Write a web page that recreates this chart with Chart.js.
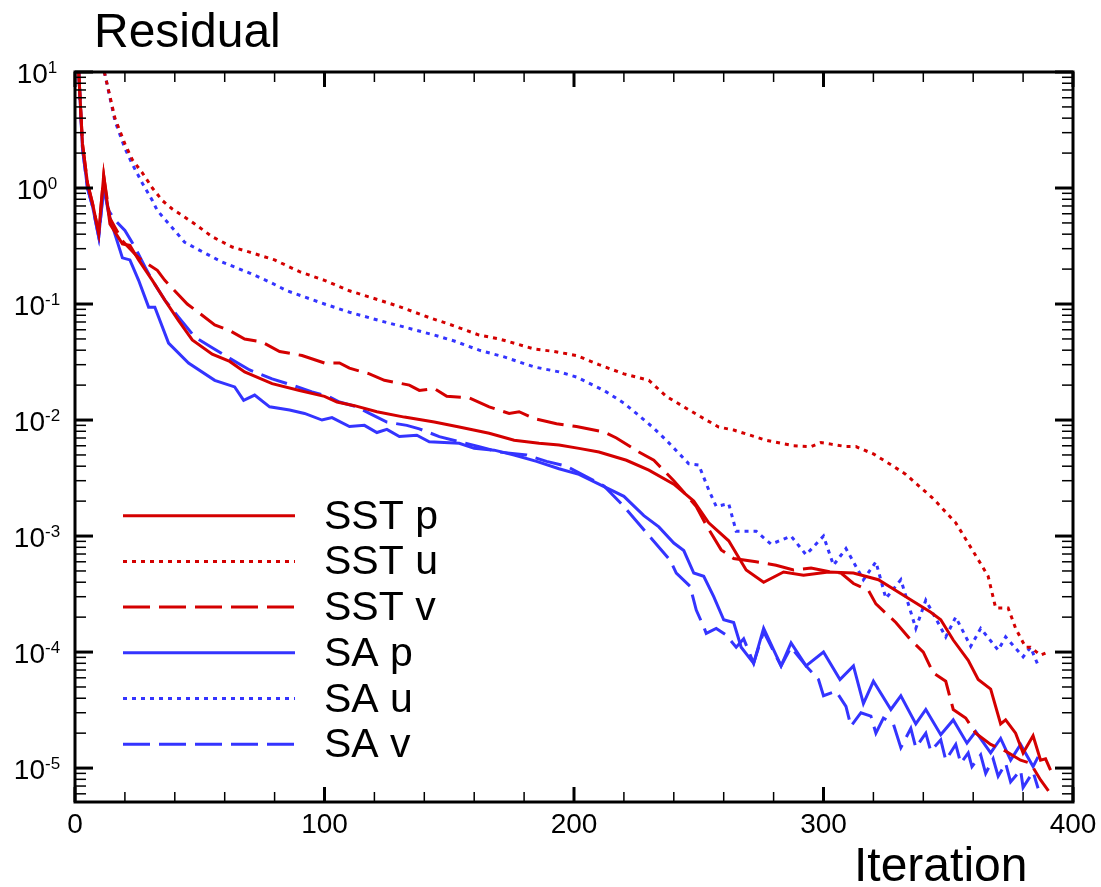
<!DOCTYPE html>
<html>
<head>
<meta charset="utf-8">
<title>Residual</title>
<script src="https://cdn.jsdelivr.net/npm/chart.js@4.4.1/dist/chart.umd.min.js"></script>
<style>
    html, body { margin: 0; padding: 0; background: #ffffff; }
    #wrap { width: 1101px; height: 887px; }
</style>
</head>
<body>
<div id="wrap"><canvas id="residual-chart" width="1101" height="887"></canvas></div>
<script>
/* ============================================================================
   RESIDUAL HISTORY - SST vs SA
   ============================================================================ */

// Series: [iteration, residual]
const sstP = [[0,20],[1.5,10],[3,2.4],[5,1.1],[7,0.74],[9.5,0.41],[11.5,1.28],[14,0.49],[19,0.33],[22,0.32],
    [25.5,0.24],[31,0.16],[36,0.108],[41.5,0.072],[47,0.049],[55,0.037],[62,0.032],[68,0.026],[79,0.0206],[90,0.018],
    [100,0.016],[105,0.0143],[112,0.0133],[121,0.0118],[132,0.0106],[144,0.0096],[154,0.0087],[166,0.0077],[176,0.0067],[186,0.0063],
    [194,0.0061],[202,0.0057],[210,0.0053],[221,0.0045],[230,0.0037],[240,0.0028],[248,0.002],[254,0.0013],[262,0.00091],[269,0.00051],
    [276,0.0004],[284,0.00049],[292,0.00046],[302,0.00049],[312,0.00048],[322,0.00042],[333,0.0003],[343,0.00022],[347,0.00019],[352,0.000127],
    [358,8.5e-5],[362,5.8e-5],[367,4.8e-5],[371,2.4e-5],[373,2.6e-5],[377,2e-5],[380,1.35e-5],[384,1.9e-5],[387,1.17e-5],[389,1.2e-5],[391,9.6e-6]];

const sstU = [[8,20],[12,9.5],[16,4.0],[20,2.4],[23,1.75],[27,1.35],[31,1.0],[35,0.78],[39,0.66],[48,0.49],
    [55,0.38],[63,0.31],[70,0.28],[80,0.24],[90,0.19],[100,0.16],[110,0.13],[122,0.108],[130,0.095],[143,0.075],
    [150,0.067],[162,0.054],[170,0.05],[184,0.041],[192,0.039],[201,0.036],[210,0.03],[220,0.025],[230,0.022],[237,0.016],
    [244,0.013],[252,0.0103],[258,0.0087],[264,0.0082],[277,0.0067],[288,0.006],[295,0.0059],[299,0.0064],[303,0.0062],[309,0.0059],
    [313,0.0059],[320,0.0051],[328,0.004],[333,0.0034],[344,0.0021],[353,0.0013],[361,0.00068],[366,0.00045],[369,0.00024],[374,0.00024],
    [377,0.00016],[381,0.00011],[383,0.00011],[387,0.000094],[390,0.0001]];

const sstV = [[0,20],[1.5,10],[3,2.4],[5,1.1],[7,0.74],[9.5,0.41],[11.5,1.28],[14,0.55],[19,0.35],[22,0.3],
    [25.5,0.25],[33,0.195],[36,0.16],[45,0.1],[50,0.083],[56,0.066],[62,0.059],[68,0.05],[75,0.047],[82,0.039],
    [91,0.036],[100,0.031],[106,0.031],[110,0.028],[118,0.025],[124,0.022],[134,0.02],[138,0.018],[144,0.0187],[149,0.016],
    [158,0.0155],[166,0.013],[174,0.0114],[178,0.0118],[184,0.0103],[193,0.0093],[201,0.0088],[212,0.0079],[217,0.007],[226,0.0053],
    [232,0.0045],[240,0.003],[249,0.0018],[253,0.00124],[259,0.00076],[264,0.00064],[273,0.0006],[281,0.00056],[288,0.00051],[295,0.00053],
    [303,0.00049],[307,0.00048],[312,0.00039],[318,0.00034],[321,0.00026],[329,0.00018],[335,0.000127],[340,0.0001],[344,6.6e-5],[349,5.6e-5],
    [352,3.2e-5],[357,2.7e-5],[361,2e-5],[367,1.6e-5],[373,1.4e-5],[379,1.17e-5],[383,1.1e-5],[387,7.9e-6],[391,6e-6]];

const saP = [[0,20],[1.5,10],[3,2.2],[5,1.0],[7,0.7],[9.5,0.38],[11.5,1.02],[13.5,0.6],[16,0.4],[19,0.25],
    [22,0.24],[25.5,0.16],[29.5,0.094],[32,0.094],[37.5,0.046],[45.5,0.031],[56,0.022],[64,0.0193],[67.6,0.0148],[72,0.0164],
    [78,0.013],[86,0.0122],[92,0.0114],[99,0.01],[103,0.0105],[110,0.0088],[116,0.009],[121,0.0078],[125,0.0083],[130,0.0072],
    [137,0.0074],[142,0.0065],[154,0.0063],[160,0.0057],[168,0.0055],[176,0.005],[185,0.0044],[194,0.0038],[202,0.0034],[210,0.0028],
    [220,0.0022],[228,0.0015],[234,0.0012],[240,0.00087],[244,0.00075],[248,0.00048],[252,0.00045],[256,0.0003],[260,0.00019],[264,0.00018],
    [267,0.00011],[272,8e-5],[276,0.00016],[283,7.6e-5],[287,0.00012],[293,7.6e-5],[300,0.0001],[306.6,5.8e-5],[312,7.6e-5],[316,3.6e-5],
    [320,5.6e-5],[327,3.2e-5],[331,4.2e-5],[337,2.4e-5],[341,3.2e-5],[347,1.94e-5],[352,2.6e-5],[357.5,1.64e-5],[361,2.06e-5],[367,1.35e-5],
    [371,1.8e-5],[375,1.17e-5],[379,1.6e-5],[384,1.03e-5],[386,1.25e-5]];

const saU = [[8,20],[12,9.5],[16,3.8],[20,2.2],[23,1.6],[27,1.1],[31,0.78],[33,0.64],[38,0.48],[44,0.34],
    [50,0.29],[59,0.23],[66,0.2],[70,0.185],[78,0.155],[85,0.13],[92,0.115],[100,0.1],[110,0.085],[122,0.072],
    [130,0.065],[144,0.054],[152,0.048],[162,0.04],[172,0.035],[184,0.0287],[194,0.026],[201,0.0235],[212,0.018],[220,0.014],
    [225,0.0114],[232,0.0085],[237,0.0067],[246,0.0042],[250,0.0041],[254,0.0025],[257,0.0018],[262,0.0019],[265,0.0011],[273,0.0011],
    [279,0.00085],[287,0.001],[293,0.00069],[300,0.001],[304,0.00056],[309,0.00078],[316,0.00042],[321,0.0006],[325,0.00029],[331,0.00042],
    [337,0.00016],[341,0.00028],[349,0.000135],[353,0.0002],[359,0.000112],[363,0.00016],[370,0.000104],[373,0.000135],[380,0.000091],[383,0.00011],
    [386,0.000077]];

const saV = [[0,20],[1.5,10],[3,2.2],[5,1.0],[7,0.7],[9.5,0.38],[11.5,1.0],[13.5,0.64],[16,0.53],[20,0.43],
    [24,0.31],[28,0.21],[31,0.16],[36,0.108],[41.5,0.077],[48,0.052],[55,0.042],[62,0.034],[70,0.027],[79,0.0226],
    [87,0.02],[95,0.0175],[102,0.0158],[106,0.0143],[113,0.013],[118,0.0114],[125,0.0096],[133,0.009],[138,0.0084],[146,0.0072],
    [154,0.0065],[162,0.0059],[170,0.0053],[181,0.005],[189,0.0044],[197,0.004],[202,0.0035],[212,0.0027],[220,0.0018],[230.5,0.00098],
    [238.5,0.00062],[241,0.00048],[246.5,0.00037],[249,0.00023],[252,0.000165],[253,0.000145],[257,0.00016],[261,0.00014],[265,0.00011],[268,0.00013],
    [272,8e-5],[276,0.00015],[283,7.6e-5],[287,0.00011],[293,7.6e-5],[298,5.8e-5],[300,4.2e-5],[305,4.6e-5],[309,3.4e-5],[311,2.3e-5],
    [315,3e-5],[319,2.8e-5],[321,2e-5],[324,2.7e-5],[328,2.4e-5],[331,1.5e-5],[335,2.2e-5],[337,1.5e-5],[341,2e-5],[343,1.4e-5],
    [347,1.75e-5],[349,1.17e-5],[353,1.6e-5],[355,1.1e-5],[358,1.35e-5],[359.5,1.03e-5],[363,1.3e-5],[365,9e-6],[368,1.2e-5],[370,8.5e-6],
    [373,1.1e-5],[375,7.6e-6],[379,9.6e-6],[380,6.8e-6],[384,9.3e-6],[386,6.7e-6]];

const seriesLabels = ['SST p', 'SST u', 'SST v', 'SA p', 'SA u', 'SA v'];

// Axes
const xMin = 0, xMax = 400;
const xMajorTicks = [0, 100, 200, 300, 400];
const xMinorStep = 20;
const yMin = 5.1e-6, yMax = 10;
const yDecades = [-5, -4, -3, -2, -1, 0, 1];

// Styles
const RED = '#d40000';
const BLUE = '#3434ff';
const SOLID = [];
const DOTTED = [4, 5];
const DASHED = [27, 9];
const FONT = '"Liberation Sans", Arial, Helvetica, sans-serif';

const seriesStyle = [
    { data: sstP, color: RED, dash: SOLID },
    { data: sstU, color: RED, dash: DOTTED },
    { data: sstV, color: RED, dash: DASHED },
    { data: saP, color: BLUE, dash: SOLID },
    { data: saU, color: BLUE, dash: DOTTED },
    { data: saV, color: BLUE, dash: DASHED }
];

function strokeLine(ctx, x1, y1, x2, y2) {
    ctx.beginPath();
    ctx.moveTo(x1, y1);
    ctx.lineTo(x2, y2);
    ctx.stroke();
}

// Frame, inward ticks and tick labels
const axisDecor = {
    id: 'axisDecor',
    afterDatasetsDraw(chart) {
        const { ctx, chartArea: a, scales: { x, y } } = chart;
        ctx.save();
        ctx.strokeStyle = '#000';
        ctx.fillStyle = '#000';
        ctx.setLineDash([]);

        // x ticks (bottom + top)
        for (let v = xMin; v <= xMax; v += xMinorStep) {
            const major = xMajorTicks.includes(v);
            const px = x.getPixelForValue(v);
            ctx.lineWidth = major ? 3 : 1.5;
            const len = major ? 15 : 10;
            strokeLine(ctx, px, a.bottom, px, a.bottom - len);
            strokeLine(ctx, px, a.top, px, a.top + len);
        }

        // y ticks (left + right), log minors
        for (let k = -6; k <= 1; k++) {
            for (let m = 1; m <= 9; m++) {
                const v = m * Math.pow(10, k);
                if (v < yMin || v > yMax * 1.0001) continue;
                const py = y.getPixelForValue(v);
                const major = m === 1;
                ctx.lineWidth = major ? 3 : 1.5;
                const len = major ? 18 : 11;
                strokeLine(ctx, a.left, py, a.left + len, py);
                strokeLine(ctx, a.right, py, a.right - len, py);
            }
        }

        // frame
        ctx.lineWidth = 3;
        ctx.strokeRect(a.left, a.top, a.right - a.left, a.bottom - a.top);

        // x labels
        ctx.font = '28px ' + FONT;
        ctx.textAlign = 'center';
        ctx.textBaseline = 'alphabetic';
        xMajorTicks.forEach(v => {
            ctx.fillText(String(v), x.getPixelForValue(v), a.bottom + 31);
        });

        // y labels: 10 with superscript exponent
        yDecades.forEach(k => {
            const py = y.getPixelForValue(Math.pow(10, k));
            const exp = String(k);
            ctx.font = '28px ' + FONT;
            const baseW = ctx.measureText('10').width;
            ctx.font = '17px ' + FONT;
            const expW = ctx.measureText(exp).width;
            const left = 37 - (baseW + expW) / 2;
            ctx.textAlign = 'left';
            ctx.font = '28px ' + FONT;
            ctx.fillText('10', left, py + 10.5);
            ctx.font = '17px ' + FONT;
            ctx.fillText(exp, left + baseW, py + 1);
        });

        // axis titles
        ctx.font = '48px ' + FONT;
        ctx.textAlign = 'left';
        ctx.fillText('Residual', 94, 47);
        ctx.fillText('Iteration', 854, 881);
        ctx.restore();
    }
};

// Legend drawn inside the plot
const insideLegend = {
    id: 'insideLegend',
    afterDraw(chart) {
        const { ctx } = chart;
        const lineX1 = 123, lineX2 = 295, textX = 324;
        const rowTop = 515.7, rowStep = 45.7;
        ctx.save();
        chart.data.datasets.forEach((ds, i) => {
            const ly = rowTop + i * rowStep;
            ctx.strokeStyle = ds.borderColor;
            ctx.lineWidth = ds.borderWidth;
            ctx.setLineDash(ds.borderDash);
            strokeLine(ctx, lineX1, ly, lineX2, ly);
            ctx.setLineDash([]);
            ctx.fillStyle = '#000';
            ctx.font = '41px ' + FONT;
            ctx.textAlign = 'left';
            ctx.textBaseline = 'alphabetic';
            ctx.fillText(ds.label, textX, ly + 13);
        });
        ctx.restore();
    }
};

document.addEventListener('DOMContentLoaded', function() {
    const ctx = document.getElementById('residual-chart');

    new Chart(ctx, {
        type: 'line',
        data: {
            datasets: seriesStyle.map((s, i) => ({
                label: seriesLabels[i],
                data: s.data.map(p => ({ x: p[0], y: p[1] })),
                borderColor: s.color,
                borderWidth: 3,
                borderDash: s.dash,
                pointRadius: 0,
                tension: 0,
                fill: false
            }))
        },
        options: {
            responsive: false,
            animation: false,
            devicePixelRatio: 1,
            layout: { padding: { left: 75, top: 72, right: 28, bottom: 85 } },
            plugins: {
                legend: { display: false },
                tooltip: { enabled: false }
            },
            scales: {
                x: { type: 'linear', min: xMin, max: xMax, display: false },
                y: { type: 'logarithmic', min: yMin, max: yMax, display: false }
            }
        },
        plugins: [axisDecor, insideLegend]
    });
});
</script>
</body>
</html>
